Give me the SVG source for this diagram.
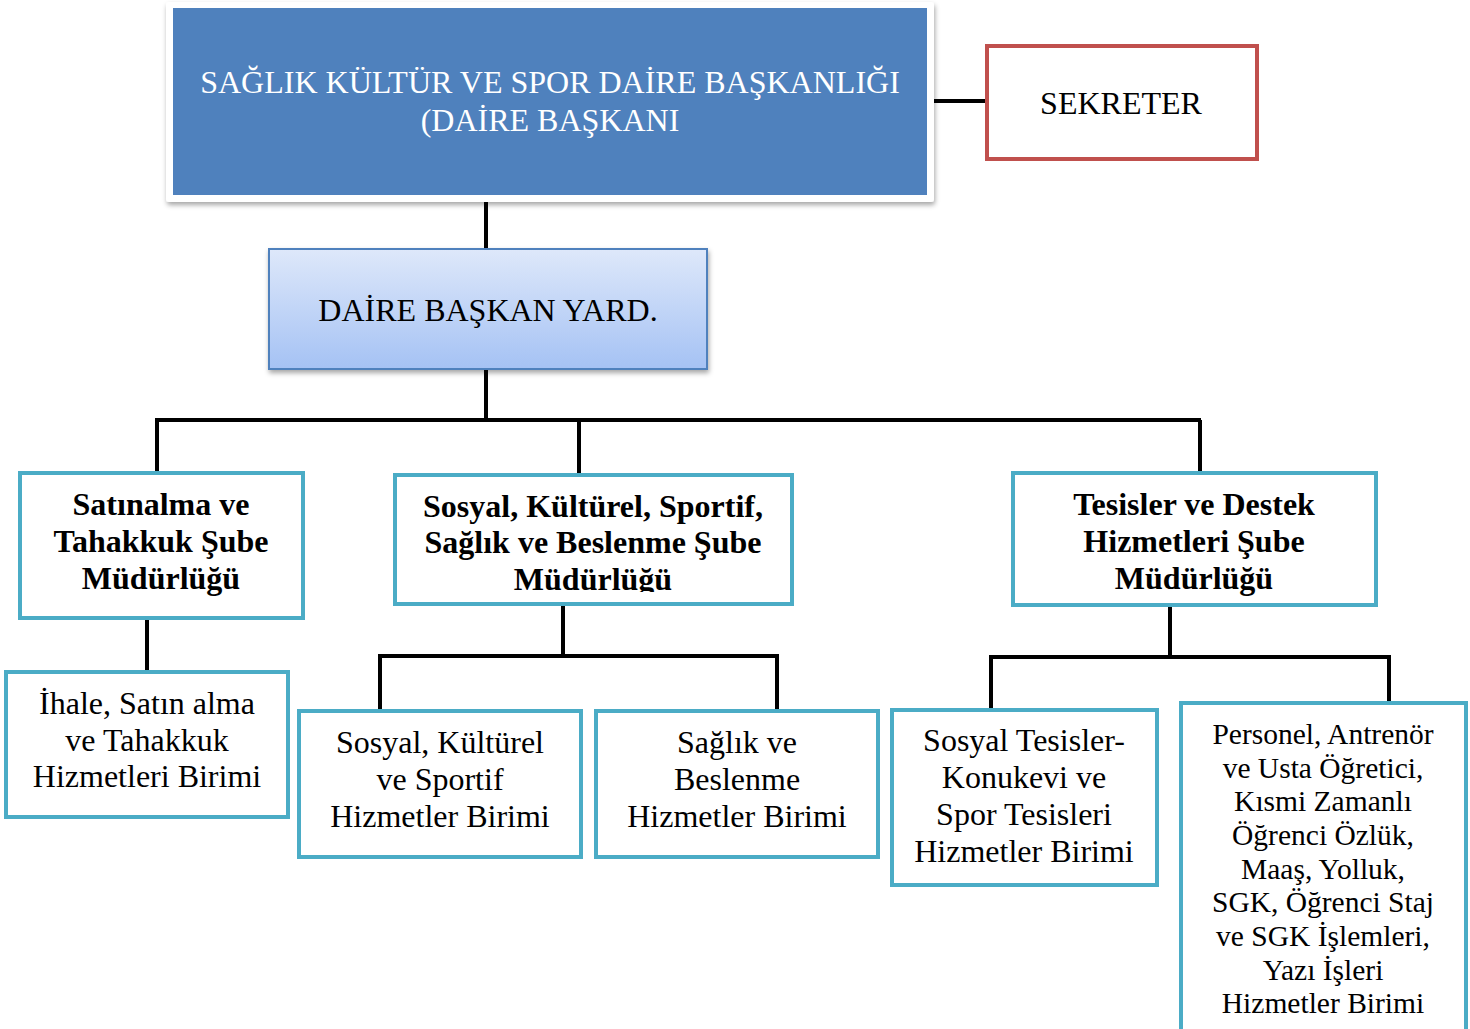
<svg xmlns="http://www.w3.org/2000/svg" width="1470" height="1029" viewBox="0 0 1470 1029">
<style>
text{font-family:"Liberation Serif","Times New Roman",serif;text-anchor:middle;fill:#000}
.t{font-size:32px}
.b{font-size:32px;font-weight:bold}
.s{font-size:29.5px}
.w{fill:#fff;font-size:32px}
.cn{stroke:#000;stroke-width:4;fill:none}
.tl{fill:#fff;stroke:#4BACC6;stroke-width:4}
</style>
<defs>
<linearGradient id="g" x1="0" y1="0" x2="0" y2="1">
<stop offset="0" stop-color="#DEE8FA"/>
<stop offset="1" stop-color="#A5C2F4"/>
</linearGradient>
<filter id="sh" x="-5%" y="-5%" width="110%" height="115%">
<feDropShadow dx="1" dy="3" stdDeviation="2.5" flood-color="#000" flood-opacity="0.35"/>
</filter>
<clipPath id="cb"><rect x="397" y="477" width="393" height="115"/></clipPath>
</defs>
<g id="connectors">
<path class="cn" d="M931 101H986"/>
<path class="cn" d="M486 200V250"/>
<path class="cn" d="M486 369V420M155 420H1201M157 420V473M579 420V474M1200 420V473"/>
<path class="cn" d="M147 618V672"/>
<path class="cn" d="M563 604V656M378 656H779M380 656V711M777 656V711"/>
<path class="cn" d="M1170 605V657M989 657H1391M991 657V710M1389 657V703"/>
</g>
<g id="n1">
<rect x="166" y="2" width="768" height="200" rx="3" fill="#fff" filter="url(#sh)"/>
<rect x="173" y="8" width="754" height="187" fill="#4F81BD"/>
<text class="w" x="550" y="93">SAĞLIK KÜLTÜR VE SPOR DAİRE BAŞKANLIĞI</text>
<text class="w" x="550" y="131">(DAİRE BAŞKANI</text>
</g>
<g id="n2">
<rect x="987" y="46" width="270" height="113" fill="#fff" stroke="#C0504D" stroke-width="4"/>
<text class="t" x="1121" y="114">SEKRETER</text>
</g>
<g id="n3">
<rect x="269" y="249" width="438" height="120" fill="url(#g)" stroke="#4F81BD" stroke-width="2" filter="url(#sh)"/>
<text class="t" x="488" y="321">DAİRE BAŞKAN YARD.</text>
</g>
<g id="n4">
<rect class="tl" x="20" y="473" width="283" height="145"/>
<text class="b" x="161" y="515">Satınalma ve</text>
<text class="b" x="161" y="552">Tahakkuk Şube</text>
<text class="b" x="161" y="589">Müdürlüğü</text>
</g>
<g id="n5">
<rect class="tl" x="395" y="475" width="397" height="129"/>
<g clip-path="url(#cb)">
<text class="b" x="593" y="517">Sosyal, Kültürel, Sportif,</text>
<text class="b" x="593" y="553">Sağlık ve Beslenme Şube</text>
<text class="b" x="593" y="590">Müdürlüğü</text>
</g>
</g>
<g id="n6">
<rect class="tl" x="1013" y="473" width="363" height="132"/>
<text class="b" x="1194" y="515">Tesisler ve Destek</text>
<text class="b" x="1194" y="552">Hizmetleri Şube</text>
<text class="b" x="1194" y="589">Müdürlüğü</text>
</g>
<g id="n7">
<rect class="tl" x="6" y="672" width="282" height="145"/>
<text class="t" x="147" y="714">İhale, Satın alma</text>
<text class="t" x="147" y="751">ve Tahakkuk</text>
<text class="t" x="147" y="787">Hizmetleri Birimi</text>
</g>
<g id="n8">
<rect class="tl" x="299" y="711" width="282" height="146"/>
<text class="t" x="440" y="753">Sosyal, Kültürel</text>
<text class="t" x="440" y="790">ve Sportif</text>
<text class="t" x="440" y="827">Hizmetler Birimi</text>
</g>
<g id="n9">
<rect class="tl" x="596" y="711" width="282" height="146"/>
<text class="t" x="737" y="753">Sağlık ve</text>
<text class="t" x="737" y="790">Beslenme</text>
<text class="t" x="737" y="827">Hizmetler Birimi</text>
</g>
<g id="n10">
<rect class="tl" x="892" y="710" width="265" height="175"/>
<text class="t" x="1024" y="751">Sosyal Tesisler-</text>
<text class="t" x="1024" y="788">Konukevi ve</text>
<text class="t" x="1024" y="825">Spor Tesisleri</text>
<text class="t" x="1024" y="862">Hizmetler Birimi</text>
</g>
<g id="n11">
<rect class="tl" x="1181" y="703" width="285" height="330"/>
<text class="s" x="1323" y="744">Personel, Antrenör</text>
<text class="s" x="1323" y="778">ve Usta Öğretici,</text>
<text class="s" x="1323" y="811">Kısmi Zamanlı</text>
<text class="s" x="1323" y="845">Öğrenci Özlük,</text>
<text class="s" x="1323" y="879">Maaş, Yolluk,</text>
<text class="s" x="1323" y="912">SGK, Öğrenci Staj</text>
<text class="s" x="1323" y="946">ve SGK İşlemleri,</text>
<text class="s" x="1323" y="980">Yazı İşleri</text>
<text class="s" x="1323" y="1013">Hizmetler Birimi</text>
</g>
</svg>
